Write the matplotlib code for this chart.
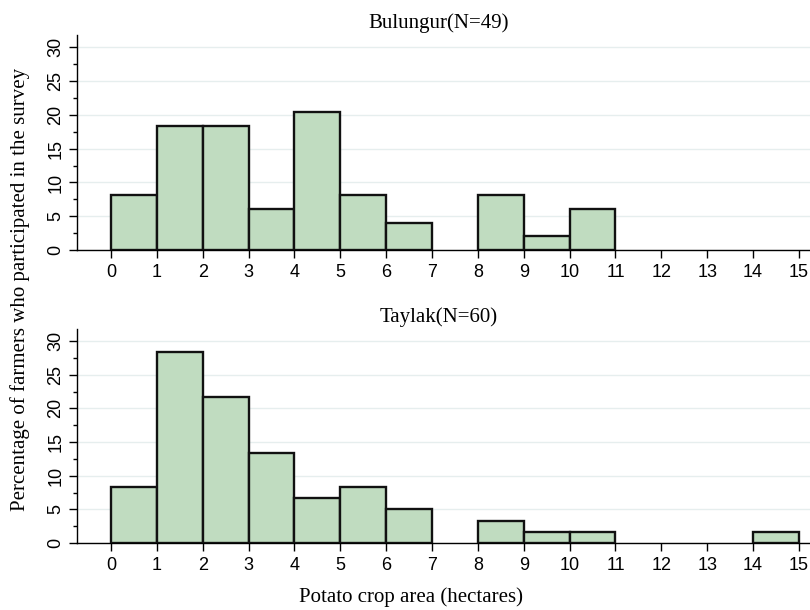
import numpy as np
import matplotlib.pyplot as plt
from matplotlib.ticker import MultipleLocator

# bin edges in hectares and percentages per bin
bin_edges = list(range(0, 16))
bulungur_pct = [8.16, 18.37, 18.37, 6.12, 20.41, 8.16, 4.08, 0, 8.16, 2.04, 6.12, 0, 0, 0, 0]
taylak_pct = [8.33, 28.33, 21.67, 13.33, 6.67, 8.33, 5.0, 0, 3.33, 1.67, 1.67, 0, 0, 0, 1.67]
titles = ["Bulungur(N=49)", "Taylak(N=60)"]

bar_color = "#c0dcc0"
serif = ["Liberation Serif", "DejaVu Serif"]
sans = ["Liberation Sans", "DejaVu Sans"]


def draw_panel(ax, values, title):
    left = np.array(bin_edges[:-1])
    vals = np.array(values)
    keep = vals > 0
    ax.bar(left[keep], vals[keep], width=1.0, align="edge",
           color=bar_color, edgecolor="#111111", linewidth=1.7, zorder=3)

    ax.set_xlim(-0.74, 15.24)
    ax.set_ylim(0, 31.8)
    ax.set_xticks(bin_edges)
    ax.set_yticks(range(0, 31, 5))
    ax.yaxis.set_minor_locator(MultipleLocator(2.5))
    ax.grid(axis="y", color="#e6eeee", linewidth=1.0, zorder=0)

    for s in ["top", "right"]:
        ax.spines[s].set_visible(False)
    ax.spines["left"].set_bounds(0, 31.8)
    ax.spines["left"].set_linewidth(1.0)
    ax.spines["bottom"].set_linewidth(1.0)

    ax.tick_params(axis="x", length=6, width=1, labelsize=13, pad=4)
    ax.tick_params(axis="y", which="major", length=6, width=1, labelsize=13, pad=3)
    ax.tick_params(axis="y", which="minor", length=3, width=1)
    for lab in ax.get_xticklabels():
        lab.set_family(sans)
    for lab in ax.get_yticklabels():
        lab.set_family(sans)
        lab.set_rotation(90)
        lab.set_va("center")

    ax.set_title(title, fontsize=15, family=serif, pad=5, x=0.493)


fig = plt.figure(figsize=(8.1, 6.1), dpi=100)
ax1 = fig.add_axes([0.095, 0.590, 0.905, 0.3525])
ax2 = fig.add_axes([0.095, 0.1098, 0.905, 0.351])

draw_panel(ax1, bulungur_pct, titles[0])
draw_panel(ax2, taylak_pct, titles[1])

fig.text(0.025, 0.525, "Percentage of farmers who participated in the survey",
         rotation=90, ha="center", va="center", fontsize=15, family=serif)
fig.text(0.508, 0.021, "Potato crop area (hectares)",
         ha="center", va="center", fontsize=15, family=serif)

fig.savefig("out.png", dpi=100)
